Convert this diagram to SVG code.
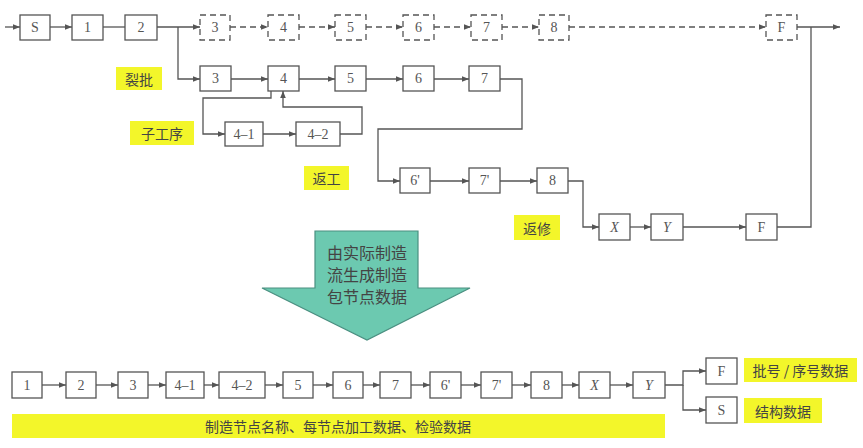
<svg xmlns="http://www.w3.org/2000/svg" width="863" height="448" viewBox="0 0 863 448">
<style>
.b{fill:#fff;stroke:#555;stroke-width:1.3}
.d{fill:#fff;stroke:#555;stroke-width:1.3;stroke-dasharray:6 4}
.t{font-family:"Liberation Serif",serif;font-size:14px;fill:#555;text-anchor:middle;dominant-baseline:central}
.i{font-style:italic}
.c{font-family:"Noto Sans CJK SC",sans-serif;font-size:14px;fill:#444;text-anchor:middle;dominant-baseline:central}
.y{fill:#f3f62a}
.l{fill:none;stroke:#555;stroke-width:1.3}
.dl{fill:none;stroke:#555;stroke-width:1.3;stroke-dasharray:6 4}
</style>
<defs><marker id="a" viewBox="0 0 10 10" refX="10" refY="5" markerWidth="7" markerHeight="7" orient="auto" markerUnits="userSpaceOnUse"><path d="M0,1 L10,5 L0,9 z" fill="#555"/></marker></defs>
<rect width="863" height="448" fill="#fff"/>
<g id="labels">
<rect class="y" x="116" y="67" width="46" height="23"/><text class="c" x="139" y="78.500">裂批</text>
<rect class="y" x="130" y="121" width="64" height="24"/><text class="c" x="162" y="133">子工序</text>
<rect class="y" x="304" y="166" width="45" height="24"/><text class="c" x="326.500" y="178">返工</text>
<rect class="y" x="514" y="215" width="46" height="25"/><text class="c" x="537" y="227.500">返修</text>
<rect class="y" x="744" y="358" width="113" height="24"/><text class="c" x="800.500" y="370">批号 / 序号数据</text>
<rect class="y" x="744" y="398" width="78" height="25"/><text class="c" x="783" y="410.500">结构数据</text>
<rect class="y" x="12" y="414" width="653" height="24"/><text class="c" x="338" y="426">制造节点名称、每节点加工数据、检验数据</text>
</g>
<g id="connectors">
<path class="l" d="M5,27 H20" marker-end="url(#a)"/>
<path class="l" d="M50,27 H72" marker-end="url(#a)"/>
<path class="l" d="M103,27 H125"/>
<path class="l" d="M157,27 H200" marker-end="url(#a)"/>
<path class="dl" d="M230,27 H268" marker-end="url(#a)"/>
<path class="dl" d="M299,27 H335" marker-end="url(#a)"/>
<path class="dl" d="M366,27 H403" marker-end="url(#a)"/>
<path class="dl" d="M434,27 H471" marker-end="url(#a)"/>
<path class="dl" d="M502,27 H539" marker-end="url(#a)"/>
<path class="dl" d="M569,27 H766" marker-end="url(#a)"/>
<path class="l" d="M797,27 H840" marker-end="url(#a)"/>
<path class="l" d="M178,27 V79 H200" marker-end="url(#a)"/>
<path class="l" d="M231,79 H268" marker-end="url(#a)"/>
<path class="l" d="M299,79 H335" marker-end="url(#a)"/>
<path class="l" d="M366,79 H403" marker-end="url(#a)"/>
<path class="l" d="M434,79 H469" marker-end="url(#a)"/>
<path class="l" d="M271,91 V98 H203 V134 H225" marker-end="url(#a)"/>
<path class="l" d="M263,134 H296" marker-end="url(#a)"/>
<path class="l" d="M340,134 H362 V107 H283 V91" marker-end="url(#a)"/>
<path class="l" d="M500,79 H522 V129 H378 V181 H400" marker-end="url(#a)"/>
<path class="l" d="M430,181 H469" marker-end="url(#a)"/>
<path class="l" d="M500,181 H537" marker-end="url(#a)"/>
<path class="l" d="M568,181 H583 V227 H599" marker-end="url(#a)"/>
<path class="l" d="M630,227 H651" marker-end="url(#a)"/>
<path class="l" d="M683,227 H746" marker-end="url(#a)"/>
<path class="l" d="M777,227 H811 V27"/>
<path class="l" d="M42,385 H66" marker-end="url(#a)"/>
<path class="l" d="M96,385 H118" marker-end="url(#a)"/>
<path class="l" d="M148,385 H166" marker-end="url(#a)"/>
<path class="l" d="M204,385 H219" marker-end="url(#a)"/>
<path class="l" d="M265,385 H283" marker-end="url(#a)"/>
<path class="l" d="M313,385 H333" marker-end="url(#a)"/>
<path class="l" d="M363,385 H380" marker-end="url(#a)"/>
<path class="l" d="M411,385 H430" marker-end="url(#a)"/>
<path class="l" d="M461,385 H481" marker-end="url(#a)"/>
<path class="l" d="M512,385 H531" marker-end="url(#a)"/>
<path class="l" d="M562,385 H579" marker-end="url(#a)"/>
<path class="l" d="M610,385 H633" marker-end="url(#a)"/>
<path class="l" d="M665,385 H683 V371 H706" marker-end="url(#a)"/>
<path class="l" d="M683,385 V410 H706" marker-end="url(#a)"/>
</g>
<g id="bigarrow">
<path d="M315,231 H418 V288 H470 L367,340 L262,288 H315 Z" fill="#6cc9b0" stroke="#4a8f80" stroke-width="1.2"/>
<text class="c" x="367" y="252" style="font-size:16px">由实际制造</text>
<text class="c" x="367" y="274" style="font-size:16px">流生成制造</text>
<text class="c" x="367" y="296" style="font-size:16px">包节点数据</text>
</g>
<g id="top">
<g id="nS"><rect class="b" x="20" y="15" width="30" height="25"/><text class="t" x="35" y="27.500">S</text></g>
<g id="n1"><rect class="b" x="72" y="15" width="31" height="25"/><text class="t" x="87.500" y="27.500">1</text></g>
<g id="n2"><rect class="b" x="125" y="15" width="32" height="25"/><text class="t" x="141" y="27.500">2</text></g>
<g id="d3"><rect class="d" x="200" y="15" width="30" height="25"/><text class="t" x="215" y="27.500">3</text></g>
<g id="d4"><rect class="d" x="268" y="15" width="31" height="25"/><text class="t" x="283.500" y="27.500">4</text></g>
<g id="d5"><rect class="d" x="335" y="15" width="31" height="25"/><text class="t" x="350.500" y="27.500">5</text></g>
<g id="d6"><rect class="d" x="403" y="15" width="31" height="25"/><text class="t" x="418.500" y="27.500">6</text></g>
<g id="d7"><rect class="d" x="471" y="15" width="31" height="25"/><text class="t" x="486.500" y="27.500">7</text></g>
<g id="d8"><rect class="d" x="539" y="15" width="30" height="25"/><text class="t" x="554" y="27.500">8</text></g>
<g id="dF"><rect class="d" x="766" y="15" width="31" height="25"/><text class="t" x="781.500" y="27.500">F</text></g>
<g id="m3"><rect class="b" x="200" y="66" width="31" height="25"/><text class="t" x="215.500" y="78.500">3</text></g>
<g id="m4"><rect class="b" x="268" y="66" width="31" height="25"/><text class="t" x="283.500" y="78.500">4</text></g>
<g id="m5"><rect class="b" x="335" y="66" width="31" height="25"/><text class="t" x="350.500" y="78.500">5</text></g>
<g id="m6"><rect class="b" x="403" y="66" width="31" height="25"/><text class="t" x="418.500" y="78.500">6</text></g>
<g id="m7"><rect class="b" x="469" y="66" width="31" height="25"/><text class="t" x="484.500" y="78.500">7</text></g>
<g id="m41"><rect class="b" x="225" y="122" width="38" height="24"/><text class="t" x="244" y="134">4–1</text></g>
<g id="m42"><rect class="b" x="296" y="122" width="44" height="24"/><text class="t" x="318" y="134">4–2</text></g>
<g id="m6p"><rect class="b" x="400" y="168" width="30" height="25"/><text class="t" x="415" y="180.500">6'</text></g>
<g id="m7p"><rect class="b" x="469" y="168" width="31" height="25"/><text class="t" x="484.500" y="180.500">7'</text></g>
<g id="m8"><rect class="b" x="537" y="168" width="31" height="25"/><text class="t" x="552.500" y="180.500">8</text></g>
<g id="mX"><rect class="b" x="599" y="214" width="31" height="26"/><text class="t i" x="614.500" y="227">X</text></g>
<g id="mY"><rect class="b" x="651" y="214" width="32" height="26"/><text class="t i" x="667" y="227">Y</text></g>
<g id="mF"><rect class="b" x="746" y="214" width="31" height="26"/><text class="t" x="761.500" y="227">F</text></g>
</g>
<g id="bottom">
<g id="b1"><rect class="b" x="12" y="372" width="30" height="26"/><text class="t" x="27" y="385">1</text></g>
<g id="b2"><rect class="b" x="66" y="372" width="30" height="26"/><text class="t" x="81" y="385">2</text></g>
<g id="b3"><rect class="b" x="118" y="372" width="30" height="26"/><text class="t" x="133" y="385">3</text></g>
<g id="b41"><rect class="b" x="166" y="372" width="38" height="26"/><text class="t" x="185" y="385">4–1</text></g>
<g id="b42"><rect class="b" x="219" y="372" width="46" height="26"/><text class="t" x="242" y="385">4–2</text></g>
<g id="b5"><rect class="b" x="283" y="372" width="30" height="26"/><text class="t" x="298" y="385">5</text></g>
<g id="b6"><rect class="b" x="333" y="372" width="30" height="26"/><text class="t" x="348" y="385">6</text></g>
<g id="b7"><rect class="b" x="380" y="372" width="31" height="26"/><text class="t" x="395.500" y="385">7</text></g>
<g id="b6p"><rect class="b" x="430" y="372" width="31" height="26"/><text class="t" x="445.500" y="385">6'</text></g>
<g id="b7p"><rect class="b" x="481" y="372" width="31" height="26"/><text class="t" x="496.500" y="385">7'</text></g>
<g id="b8"><rect class="b" x="531" y="372" width="31" height="26"/><text class="t" x="546.500" y="385">8</text></g>
<g id="bX"><rect class="b" x="579" y="372" width="31" height="26"/><text class="t i" x="594.500" y="385">X</text></g>
<g id="bY"><rect class="b" x="633" y="372" width="32" height="26"/><text class="t i" x="649" y="385">Y</text></g>
<g id="bF"><rect class="b" x="706" y="358" width="31" height="26"/><text class="t" x="721.500" y="371">F</text></g>
<g id="bS"><rect class="b" x="706" y="397" width="31" height="26"/><text class="t" x="721.500" y="410">S</text></g>
</g>
</svg>
